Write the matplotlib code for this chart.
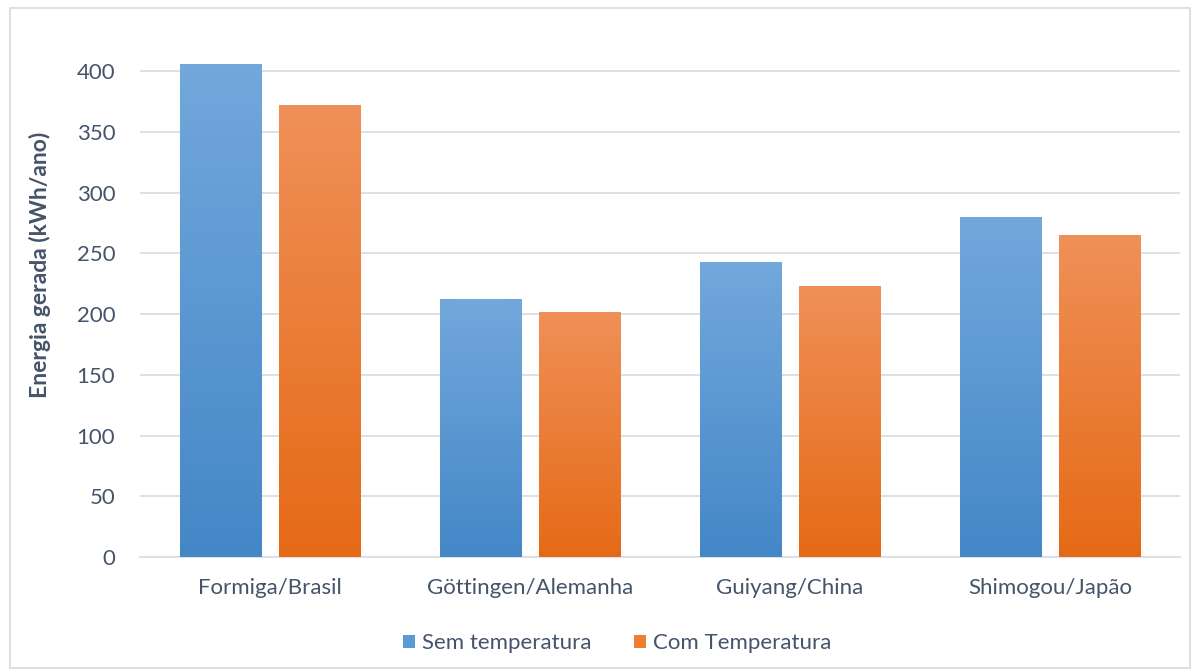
import matplotlib
matplotlib.use("Agg")
import matplotlib.pyplot as plt
import numpy as np
from matplotlib.colors import LinearSegmentedColormap
from matplotlib.patches import Rectangle, Patch

categories = ["Formiga/Brasil", "Göttingen/Alemanha", "Guiyang/China", "Shimogou/Japão"]
sem_temperatura = [406, 212, 243, 280]
com_temperatura = [372, 202, 223, 265]
series_names = ["Sem temperatura", "Com Temperatura"]
yticks = [0, 50, 100, 150, 200, 250, 300, 350, 400]

text_color = "#44546A"
grid_color = "#D9DEE5"
plt.rcParams["font.family"] = ["Lato", "DejaVu Sans"]

fig = plt.figure(figsize=(11.98, 6.72), dpi=100)
ax = fig.add_axes([0.117, 0.171, 0.868, 0.7775])

# light frame around the whole chart area
fig.patches.append(Rectangle((0.008, 0.006), 0.985, 0.982, transform=fig.transFigure,
                             fill=False, edgecolor="#D9D9D9", linewidth=1.2))

x = np.arange(len(categories))
width = 0.312
offset = 0.191

grad_specs = [
    (sem_temperatura, -offset, "#72A8DC", "#4487C7"),
    (com_temperatura, offset, "#F09058", "#E56A16"),
]

for values, dx, top_col, bot_col in grad_specs:
    cmap = LinearSegmentedColormap.from_list("g", [bot_col, top_col])
    bars = ax.bar(x + dx, values, width=width, color="none", edgecolor="none", zorder=3)
    for bar in bars:
        x0, y0 = bar.get_x(), bar.get_y()
        w, h = bar.get_width(), bar.get_height()
        grad = np.linspace(0, 1, 256).reshape(-1, 1)
        im = ax.imshow(grad, cmap=cmap, aspect="auto", origin="lower",
                       extent=(x0, x0 + w, y0, y0 + h), zorder=3)
        im.set_clip_path(bar)

ax.set_xlim(-0.5, 3.5)
ax.set_ylim(0, 430)
ax.set_yticks(yticks)
ax.set_xticks(x)
ax.set_xticklabels(categories)
ax.yaxis.grid(True, color=grid_color, linewidth=1.3, zorder=0)
ax.set_axisbelow(True)
for s in ["top", "right", "left"]:
    ax.spines[s].set_visible(False)
ax.spines["bottom"].set_color(grid_color)
ax.spines["bottom"].set_linewidth(1.3)
ax.tick_params(axis="both", length=0, colors=text_color, labelsize=16)
ax.tick_params(axis="y", pad=18)
ax.tick_params(axis="x", pad=15)
ax.set_ylabel("Energia gerada (kWh/ano)", fontsize=16.5, fontweight="bold",
              color=text_color)
ax.yaxis.set_label_coords(-0.086, 0.56)

handles = [Patch(facecolor="#5B9BD5", edgecolor="none"),
           Patch(facecolor="#ED7D31", edgecolor="none")]
leg = fig.legend(handles, series_names, loc="center", bbox_to_anchor=(0.515, 0.043),
                 ncol=2, frameon=False, fontsize=16, handlelength=0.55, handleheight=0.55,
                 handletextpad=0.3, columnspacing=1.9)
for t in leg.get_texts():
    t.set_color(text_color)

fig.savefig("out.png", dpi=100)
